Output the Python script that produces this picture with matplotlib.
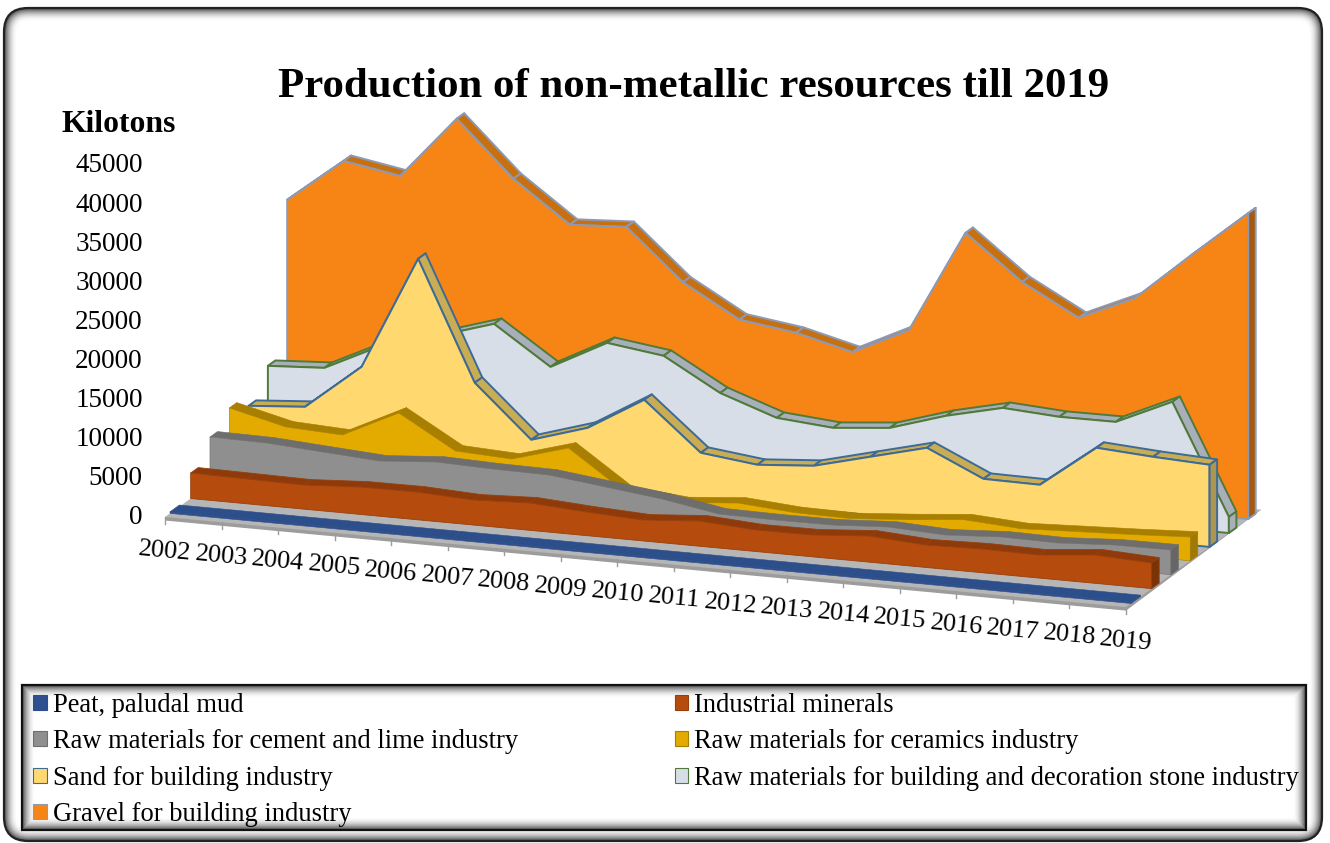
import matplotlib
matplotlib.use("Agg")
import matplotlib.pyplot as plt
from matplotlib.patches import FancyBboxPatch, Polygon, Patch, Rectangle
from matplotlib.transforms import ScaledTranslation

plt.rcParams['font.family'] = ['Liberation Serif', 'DejaVu Serif']

years = list(range(2002, 2020))
peat = [200] * 18
industrial = [3260, 3170, 3080, 3500, 3540, 3200, 3490, 3020, 2670, 3220, 2750, 2790, 3340, 2860, 3030, 2940, 3620, 3270]
cement = [6090, 6000, 5520, 5050, 5600, 5380, 5290, 4440, 3580, 2340, 2250, 2290, 2710, 2370, 2790, 2700, 3120, 3160]
ceramics = [8020, 6270, 5920, 9410, 5230, 4880, 6970, 2020, 1340, 1970, 1420, 1330, 1880, 2540, 2080, 2380, 2670, 3040]
sand = [6520, 7070, 12860, 27350, 12180, 5560, 7770, 12030, 5930, 5080, 5630, 7460, 9280, 5990, 5910, 11320, 10840, 10500]
stone = [9850, 10270, 13760, 15700, 17930, 13100, 16850, 15880, 11800, 9300, 8700, 9370, 11600, 13280, 12820, 12850, 16090, 2060]
gravel = [29300, 34950, 33700, 41700, 34700, 29500, 29900, 23500, 19400, 18400, 16600, 20100, 33200, 27600, 23700, 26900, 33100, 39100]

series_names = ['Peat, paludal mud', 'Industrial minerals',
                'Raw materials for cement and lime industry', 'Raw materials for ceramics industry',
                'Sand for building industry', 'Raw materials for building and decoration stone industry',
                'Gravel for building industry']
series_values = [peat, industrial, cement, ceramics, sand, stone, gravel]
face_colors = ['#2E5090', '#B64B0E', '#8F8F8F', '#E3AB00', '#FFD970', '#D7DEE7', '#F78516']
top_colors = ['#2C4E8A', '#8E3A0A', '#6E6E6E', '#A87F00', '#C9AD55', '#A9AFBA', '#C8700F']
cap_colors = ['#2C4E8A', '#7A3208', '#666666', '#A07A00', '#AD9650', '#A9AFBA', '#A55A10']
edge_colors = ['#2C4E8A', '#96400C', '#6E6E6E', '#A87F00', '#3D6B96', '#4F7A3A', '#8C9AB5']
edge_widths = [0.4, 0.6, 0.4, 0.4, 1.4, 1.4, 1.4]
value_ticks = [0, 5000, 10000, 15000, 20000, 25000, 30000, 35000, 40000, 45000]
legend_order = [0, 2, 4, 6, 1, 3, 5]

W, H = 1330, 843
fig = plt.figure(figsize=(W / 100, H / 100), dpi=100, facecolor='white')

# --- frame decoration in pixel space
bg = fig.add_axes([0, 0, 1, 1])
bg.set_xlim(0, W)
bg.set_ylim(H, 0)
bg.axis('off')


def shade(level):
    g = 1 - (1 - level) ** 2 * 0.7
    return (g, g, g)


fx0, fy0, fx1, fy1 = 4, 8, 1322, 841
N = 14
for n in range(N):
    lv = n / (N - 1)
    bg.add_patch(FancyBboxPatch((fx0 + n, fy0 + n), fx1 - fx0 - 2 * n, fy1 - fy0 - 2 * n,
                                boxstyle=f"round,pad=0,rounding_size={max(24 - n, 4)}",
                                fc=shade(lv), ec='none'))
bg.add_patch(FancyBboxPatch((fx0, fy0), fx1 - fx0, fy1 - fy0,
                            boxstyle="round,pad=0,rounding_size=24",
                            fc='none', ec='#222222', lw=1.6))
lx0, ly0, lx1, ly1 = 22, 685, 1306, 830
for n in range(N):
    lv = n / (N - 1)
    bg.add_patch(Rectangle((lx0 + n, ly0 + n), lx1 - lx0 - 2 * n, ly1 - ly0 - 2 * n,
                           fc=shade(lv), ec='none'))
bg.add_patch(Rectangle((lx0, ly0), lx1 - lx0, ly1 - ly0, fc='none', ec='#111111', lw=1.6))

# --- chart axes: x in year index, y in kilotons
X0, X1, Y0, Y45 = 165, 1126, 517, 165
ax = fig.add_axes([X0 / W, 1 - Y0 / H, (X1 - X0) / W, (Y0 - Y45) / H])
ax.set_xlim(0, len(years) - 1)
ax.set_ylim(0, 45000)
ax.patch.set_visible(False)
for s in ax.spines.values():
    s.set_visible(False)

PX_YEAR = (X1 - X0) / 17
PX_KT = (Y0 - Y45) / 45000
DX = 19.3 / PX_YEAR        # depth slot -> years
DY = 13.9 / PX_KT          # depth slot -> kilotons
SL = 5.3 / PX_KT           # floor drop per year


def proj(i, v, d):
    return (i + d * DX, v - i * SL + d * DY)


def poly(pts, **kw):
    kw.setdefault('joinstyle', 'round')
    ax.add_patch(Polygon(pts, closed=True, clip_on=False, **kw))


last = len(years) - 1
# floor
poly([proj(0, 0, 0), proj(0, -450, 0), proj(last, -450, 0), proj(last, 0, 7)], fc='#9C9C9C', ec='none')
poly([proj(0, 0, 0), proj(last, 0, 0), proj(last, 0, 7), proj(0, 0, 7)], fc='#B6B6B6', ec='none')
for i in range(len(years)):
    a, b = proj(i, 0, 0), proj(i, -850, 0)
    ax.plot([a[0], b[0]], [a[1], b[1]], color='#9C9C9C', lw=1, clip_on=False)
    c = proj(i, 0, 0)
    ax.annotate(str(years[i]), xy=c, xytext=(0, -34 * 0.72), textcoords='offset points',
                ha='center', va='center', rotation=-5.3, rotation_mode='anchor',
                fontsize=19, color='black', annotation_clip=False)

# series, back to front
for k in range(len(series_values) - 1, -1, -1):
    vals = series_values[k]
    d0 = k + (0.26 if k == 0 else 0.33)
    d1 = k + (0.75 if k == 0 else 0.72)
    ec, lw = edge_colors[k], edge_widths[k]
    for i in range(last):
        poly([proj(i, vals[i], d0), proj(i + 1, vals[i + 1], d0),
              proj(i + 1, vals[i + 1], d1), proj(i, vals[i], d1)],
             fc=top_colors[k], ec=ec, lw=lw)
    front = [proj(0, 0, d0)] + [proj(i, vals[i], d0) for i in range(last + 1)] + [proj(last, 0, d0)]
    poly(front, fc=face_colors[k], ec=ec, lw=lw)
    poly([proj(last, 0, d0), proj(last, vals[last], d0), proj(last, vals[last], d1), proj(last, 0, d1)],
         fc=cap_colors[k], ec=ec, lw=lw)

# axes text
ax.set_xticks([])
ax.set_yticks(value_ticks)
ax.set_yticklabels([str(v) for v in value_ticks], fontsize=19.5, color='black')
ax.tick_params(axis='y', length=0, pad=16)
lift = ScaledTranslation(0, 2 / 100, fig.dpi_scale_trans)
for lab in ax.get_yticklabels():
    lab.set_transform(lab.get_transform() + lift)

fig.text(694 / W, 1 - 87 / H, 'Production of non-metallic resources till 2019',
         ha='center', va='center', fontsize=30.85, fontweight='bold', color='black')
fig.text(62 / W, 1 - 124 / H, 'Kilotons', ha='left', va='center', fontsize=22.8,
         fontweight='bold', color='black')

handles = [Patch(fc=face_colors[k], ec=edge_colors[k], lw=0.8) for k in legend_order]
labels = [series_names[k] for k in legend_order]
fig.legend(handles, labels, ncol=2, loc='upper left',
           bbox_to_anchor=(28 / W, 1 - 687.6 / H), bbox_transform=fig.transFigure,
           frameon=False, fontsize=19.1, handlelength=0.5, handleheight=0.5, handletextpad=0.24,
           columnspacing=5.9, labelspacing=0.43, borderpad=0.2, borderaxespad=0)

fig.savefig('out.png', dpi=100)
